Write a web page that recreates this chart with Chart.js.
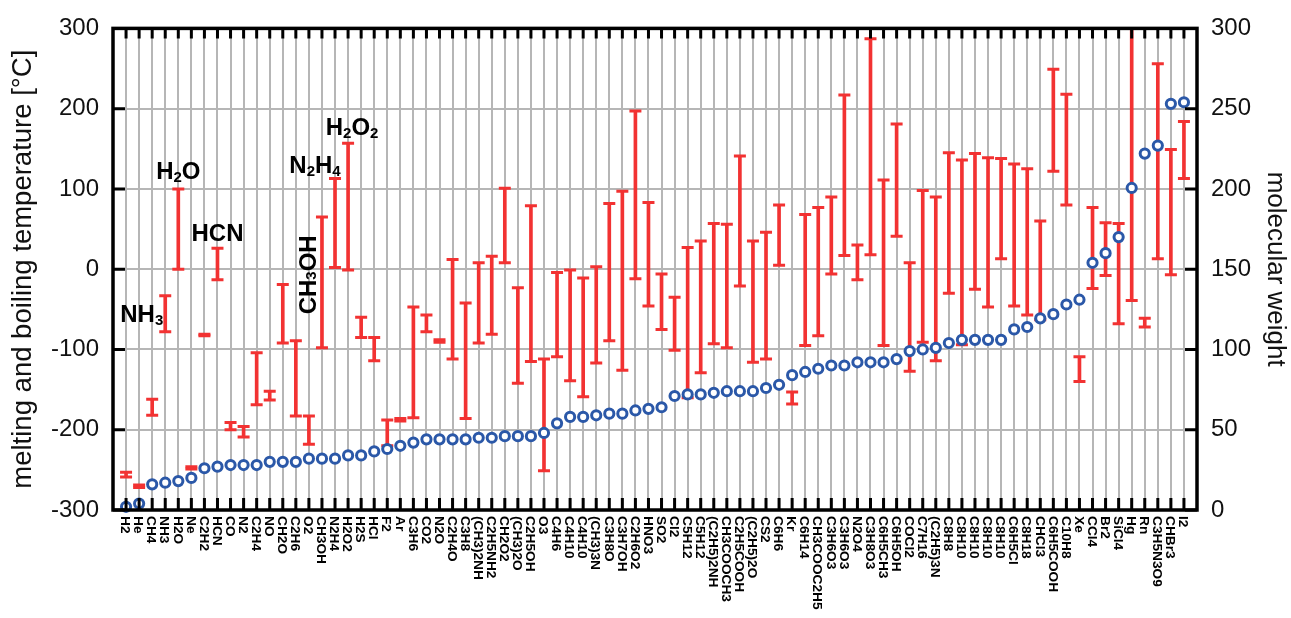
<!DOCTYPE html>
<html>
<head>
<meta charset="utf-8">
<script src="https://cdn.jsdelivr.net/npm/chart.js@4/dist/chart.umd.min.js"></script>
<style>
  html, body { margin: 0; padding: 0; background: #fff; }
  #wrap { width: 1291px; height: 618px; }
</style>
</head>
<body>
<div id="wrap"><canvas id="chart" width="1291" height="618"></canvas></div>
<script>
// Compounds, ordered by molecular weight
const compounds = ['H2','He','CH4','NH3','H2O','Ne','C2H2','HCN','CO','N2','C2H4','NO','CH2O','C2H6','O2',
  'CH3OH','N2H4','H2O2','H2S','HCl','F2','Ar','C3H6','CO2','N2O','C2H4O','C3H8','(CH3)2NH','C2H5NH2','CH2O2',
  '(CH3)2O','C2H5OH','O3','C4H6','C4H10','C4H10','(CH3)3N','C3H8O','C3H7OH','C2H6O2','HNO3','SO2','Cl2',
  'C5H12','C5H12','(C2H5)2NH','CH3COOCH3','C2H5COOH','(C2H5)2O','CS2','C6H6','Kr','C6H14','CH3COOC2H5',
  'C3H6O3','C3H6O3','N2O4','C3H8O3','C6H5CH3','C6H5OH','COCl2','C7H16','(C2H5)3N','C8H8','C8H10','C8H10',
  'C8H10','C8H10','C6H5Cl','C8H18','CHCl3','C6H5COOH','C10H8','Xe','CCl4','Br2','SiCl4','Hg','Rn',
  'C3H5N3O9','CHBr3','I2'];

// Melting point [°C]
const meltingPoint = [-259,-272,-182,-78,0,-249,-83,-13,-200,-209,-169,-163,-92,-183,-218,
  -98,2,-1,-85,-114,-220,-189,-185,-78,-91,-112,-186,-92,-81,8,
  -142,-115,-251,-109,-139,-159,-117,-89,-126,-12,-46,-75,-101,
  -160,-129,-93,-98,-21,-116,-112,5,-168,-95,-83,
  -6,17,-13,18,-95,41,-127,-91,-114,-30,-94,-25,
  -47,13,-46,-57,-63,122,80,-140,-24,-8,-68,-39,-72,
  13,-7,113];

// Boiling point [°C]
const boilingPoint = [-253,-269,-162,-33,100,-246,-81,26,-191,-196,-104,-152,-19,-89,-183,
  65,113,157,-60,-85,-188,-186,-47,-57,-88,12,-42,8,16,101,
  -23,79,-112,-4,-1,-11,3,82,97,197,83,-6,-35,
  27,35,57,56,141,35,46,80,-153,68,77,
  90,217,30,287,111,181,8,98,90,145,136,144,
  139,138,131,125,60,249,218,-109,77,58,57,357,-61,
  256,149,184];

// Molecular weight [g/mol]
const molecularWeight = [2,4,16,17,18,20,26,27,28,28,28,30,30,30,32,
  32,32,34,34,36.5,38,40,42,44,44,44,44,45,45,46,
  46,46,48,54,58,58,59,60,60,62,63,64,71,
  72,72,73,74,74,74,76,78,84,86,88,
  90,90,92,92,92,94,99,100,101,104,106,106,
  106,106,112.5,114,119.4,122,128,131,154,160,170,200.6,222,
  227,253,254];

// Axis tick values
const temperatureTicks = [-300,-200,-100,0,100,200,300];
const weightTicks = [0,50,100,150,200,250,300];

// Formula call-outs: [text, isSubscript] pieces, anchored to a compound column and a temperature
const callouts = [
  { formula: [['NH',0],['3',1]],               column: 4,  temp: -66, dx: -2,  align: 'right' },
  { formula: [['H',0],['2',1],['O',0]],        column: 5,  temp: 112, dx: 0,   align: 'center' },
  { formula: [['HCN',0]],                      column: 8,  temp: 35,  dx: 0,   align: 'center' },
  { formula: [['CH',0],['3',1],['OH',0]],      column: 16, temp: -7,  dx: -13, align: 'center', vertical: true },
  { formula: [['N',0],['2',1],['H',0],['4',1]],column: 17, temp: 120, dx: -20, align: 'center' },
  { formula: [['H',0],['2',1],['O',0],['2',1]],column: 18, temp: 167, dx: 4,   align: 'center' }
];

const RED = '#f23232';
const BLUE = '#2b58a8';
const GRID = '#b6b6b6';
const FONT = '"Liberation Sans", Arial, sans-serif';

const columns = compounds.map((_, i) => i + 1);

function drawFormula(ctx, parts, x, y, align) {
  const big = 'bold 24px ' + FONT, small = 'bold 15px ' + FONT;
  let width = 0;
  parts.forEach(([t, sub]) => { ctx.font = sub ? small : big; width += ctx.measureText(t).width; });
  let cx = align === 'right' ? x - width : align === 'center' ? x - width / 2 : x;
  ctx.textAlign = 'left';
  parts.forEach(([t, sub]) => {
    ctx.font = sub ? small : big;
    ctx.fillText(t, cx, sub ? y + 3 : y);
    cx += ctx.measureText(t).width;
  });
}

const framePlugin = {
  id: 'frameAndLabels',
  afterDatasetsDraw(chart) {
    const { ctx, chartArea: a, scales: { x, y, y2 } } = chart;
    ctx.save();
    ctx.strokeStyle = '#000';
    ctx.lineWidth = 3;
    ctx.lineCap = 'butt';
    ctx.beginPath();
    columns.forEach(c => {
      const px = x.getPixelForValue(c);
      ctx.moveTo(px, a.top); ctx.lineTo(px, a.top + 10);
      ctx.moveTo(px, a.bottom); ctx.lineTo(px, a.bottom - 12);
    });
    temperatureTicks.forEach(v => {
      const py = y.getPixelForValue(v);
      ctx.moveTo(a.left, py); ctx.lineTo(a.left + 12, py);
    });
    weightTicks.forEach(v => {
      const py = y2.getPixelForValue(v);
      ctx.moveTo(a.right, py); ctx.lineTo(a.right - 12, py);
    });
    ctx.stroke();
    ctx.lineWidth = 3.5;
    ctx.strokeRect(a.left, a.top, a.right - a.left, a.bottom - a.top);

    // compound names, reading downwards under each column
    ctx.fillStyle = '#000';
    ctx.font = 'bold 13.7px ' + FONT;
    ctx.textAlign = 'left';
    ctx.textBaseline = 'middle';
    compounds.forEach((name, i) => {
      const px = x.getPixelForValue(i + 1);
      ctx.save();
      ctx.translate(px - 1, a.bottom + 6);
      ctx.rotate(Math.PI / 2);
      ctx.fillText(name, 0, 0);
      ctx.restore();
    });

    // formula call-outs
    ctx.textBaseline = 'alphabetic';
    callouts.forEach(c => {
      const px = x.getPixelForValue(c.column) + c.dx;
      const py = y.getPixelForValue(c.temp);
      if (c.vertical) {
        ctx.save();
        ctx.translate(px, py);
        ctx.rotate(-Math.PI / 2);
        ctx.textBaseline = 'middle';
        drawFormula(ctx, c.formula, 0, 0, 'center');
        ctx.restore();
        ctx.textBaseline = 'alphabetic';
      } else {
        drawFormula(ctx, c.formula, px, py, c.align);
      }
    });
    ctx.restore();
  }
};

new Chart(document.getElementById('chart'), {
  type: 'scatter',
  data: {
    datasets: [
      {
        type: 'scatter',
        label: 'molecular weight',
        data: columns.map((c, i) => ({ x: c, y: molecularWeight[i] })),
        yAxisID: 'y2',
        pointStyle: 'circle',
        pointRadius: 4.6,
        pointHoverRadius: 4.6,
        pointBorderWidth: 3,
        pointBorderColor: BLUE,
        pointBackgroundColor: '#fff',
        clip: false,
        order: 0
      },
      {
        type: 'scatter',
        label: 'melting point',
        data: columns.map((c, i) => ({ x: c, y: meltingPoint[i] })),
        yAxisID: 'y',
        pointStyle: 'line',
        pointRadius: 6,
        pointHoverRadius: 6,
        pointBorderWidth: 3,
        pointBorderColor: RED,
        order: 1
      },
      {
        type: 'scatter',
        label: 'boiling point',
        data: columns.map((c, i) => ({ x: c, y: boilingPoint[i] })),
        yAxisID: 'y',
        pointStyle: 'line',
        pointRadius: 6,
        pointHoverRadius: 6,
        pointBorderWidth: 3,
        pointBorderColor: RED,
        order: 1
      },
      {
        type: 'bar',
        label: 'liquid range',
        data: columns.map((c, i) => ({ x: c, y: [meltingPoint[i], boilingPoint[i]] })),
        yAxisID: 'y',
        barThickness: 3,
        backgroundColor: RED,
        borderWidth: 0,
        order: 2
      }
    ]
  },
  options: {
    responsive: false,
    devicePixelRatio: 1,
    animation: false,
    events: [],
    layout: { padding: { top: 24, left: 0, right: 0, bottom: 0 } },
    plugins: { legend: { display: false }, tooltip: { enabled: false } },
    scales: {
      x: {
        type: 'linear',
        min: 0,
        max: compounds.length + 1,
        offset: false,
        afterBuildTicks: s => { s.ticks = Array.from({ length: compounds.length + 2 }, (_, i) => ({ value: i })); },
        afterFit: s => { s.height = 108; },
        ticks: { display: false, autoSkip: false },
        grid: { offset: false, color: GRID, lineWidth: 2, drawTicks: false },
        border: { display: false }
      },
      y: {
        type: 'linear',
        position: 'left',
        min: -300,
        max: 300,
        afterBuildTicks: s => { s.ticks = temperatureTicks.map(v => ({ value: v })); },
        afterFit: s => { s.width = 113; },
        ticks: { color: '#111', padding: 14, font: { family: FONT, size: 24 } },
        grid: { color: GRID, lineWidth: 2, drawTicks: false },
        border: { display: false },
        title: {
          display: true,
          text: 'melting and boiling temperature [°C]',
          color: '#111',
          padding: { top: 7, bottom: 0 },
          font: { family: FONT, size: 27.5 }
        }
      },
      y2: {
        type: 'linear',
        position: 'right',
        min: 0,
        max: 300,
        afterBuildTicks: s => { s.ticks = weightTicks.map(v => ({ value: v })); },
        afterFit: s => { s.width = 94; },
        ticks: { color: '#111', padding: 14, font: { family: FONT, size: 24 } },
        grid: { drawOnChartArea: false, drawTicks: false },
        border: { display: false },
        title: {
          display: true,
          text: 'molecular weight',
          color: '#111',
          padding: { top: 0, bottom: 0 },
          font: { family: FONT, size: 26 }
        }
      }
    }
  },
  plugins: [framePlugin]
});
</script>
</body>
</html>
